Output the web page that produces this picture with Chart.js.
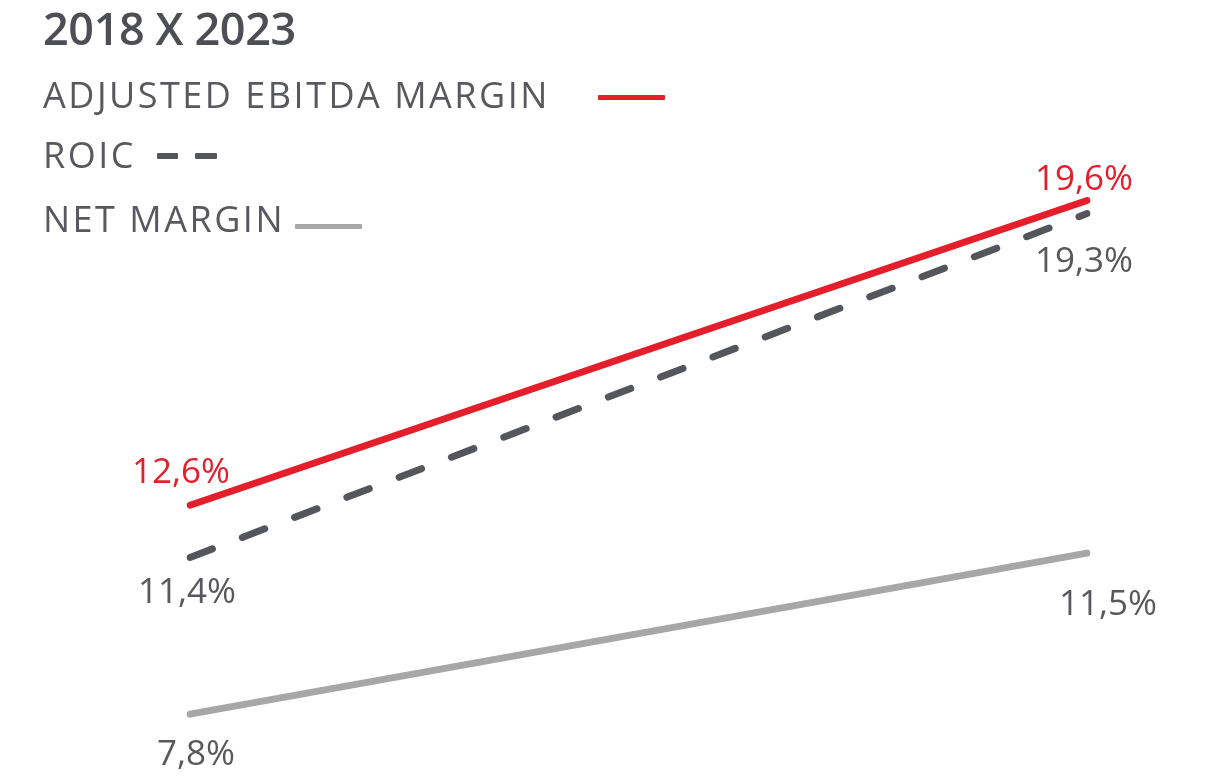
<!DOCTYPE html>
<html>
<head>
<meta charset="utf-8">
<script src="https://cdn.jsdelivr.net/npm/chart.js@4"></script>
<style>
    body { margin: 0; background: #fff; }
    #wrap { position: relative; width: 1215px; height: 780px; }
    #chart { position: absolute; left: 0; top: 0; }
    .title {
        position: absolute; left: 43px; top: -3px;
        font-family: 'Open Sans', sans-serif; font-weight: 600; font-size: 45px;
        letter-spacing: -0.4px; color: #4e4f54; white-space: nowrap;
    }
    .legend-text {
        position: absolute; left: 43px;
        font-family: 'Open Sans', sans-serif; font-size: 36px; color: #58595e;
        letter-spacing: 2.5px; white-space: nowrap;
    }
    .swatch { position: absolute; border-radius: 1px; }
</style>
</head>
<body>
<div id="wrap">
    <canvas id="chart" width="1215" height="780"></canvas>
    <div class="title">2018 X 2023</div>
    <div id="legend"></div>
</div>
<script>
const years = ['2018', '2023'];
const ebitdaMargin = [12.6, 19.6];
const roic = [11.4, 19.3];
const netMargin = [7.8, 11.5];

const seriesNames = ['ADJUSTED EBITDA MARGIN', 'ROIC', 'NET MARGIN'];
const lineColors = ['#e41e2b', '#55565c', '#a7a7a7'];
const labelColors = ['#e41e2b', '#58595e', '#58595e'];

// label placement: [dx, dy] from the point, per point
const labelOffsets = [
    [[-9, -22], [-3, -10]],
    [[-3, 46], [-3, 58]],
    [[6, 51], [21, 62]]
];

// legend layout: text top, and swatch pieces [left, top, width, height]
const legendTops = [70, 130, 194];
const legendSwatches = [
    [[598, 95, 67, 5]],
    [[157, 153, 21, 6], [195, 153, 22, 6]],
    [[295, 224, 67, 5]]
];

function fmt(v) {
    return v.toFixed(1).replace('.', ',') + '%';
}

function buildLegend() {
    const legend = document.getElementById('legend');
    seriesNames.forEach((name, i) => {
        const txt = document.createElement('div');
        txt.className = 'legend-text';
        txt.style.top = legendTops[i] + 'px';
        txt.textContent = name;
        legend.appendChild(txt);
        legendSwatches[i].forEach(([l, t, w, h]) => {
            const sw = document.createElement('div');
            sw.className = 'swatch';
            sw.style.left = l + 'px';
            sw.style.top = t + 'px';
            sw.style.width = w + 'px';
            sw.style.height = h + 'px';
            sw.style.background = lineColors[i];
            legend.appendChild(sw);
        });
    });
}

const valueLabels = {
    id: 'valueLabels',
    afterDatasetsDraw(chart) {
        const ctx = chart.ctx;
        ctx.save();
        ctx.font = '35px "Open Sans", sans-serif';
        ctx.textAlign = 'center';
        ctx.textBaseline = 'alphabetic';
        chart.data.datasets.forEach((ds, i) => {
            chart.getDatasetMeta(i).data.forEach((pt, j) => {
                const off = labelOffsets[i][j];
                ctx.fillStyle = labelColors[i];
                ctx.fillText(fmt(ds.data[j]), pt.x + off[0], pt.y + off[1]);
            });
        });
        ctx.restore();
    }
};

function render() {
    buildLegend();
    const data = [ebitdaMargin, roic, netMargin];
    const ctx = document.getElementById('chart').getContext('2d');
    new Chart(ctx, {
        type: 'line',
        data: {
            labels: years,
            datasets: data.map((d, i) => ({
                label: seriesNames[i],
                data: d,
                borderColor: lineColors[i],
                borderWidth: 7,
                borderCapStyle: 'round',
                borderDash: i === 1 ? [24, 32] : [],
                pointRadius: 0,
                tension: 0,
                fill: false
            }))
        },
        options: {
            responsive: false,
            animation: false,
            layout: { padding: { left: 190, right: 128, top: 96, bottom: 31 } },
            plugins: {
                legend: { display: false },
                tooltip: { enabled: false },
                title: { display: false }
            },
            scales: {
                x: { display: false, offset: false },
                y: { display: false, min: 7, max: 22 }
            }
        },
        plugins: [valueLabels]
    });
}

document.addEventListener('DOMContentLoaded', render);
</script>
</body>
</html>
